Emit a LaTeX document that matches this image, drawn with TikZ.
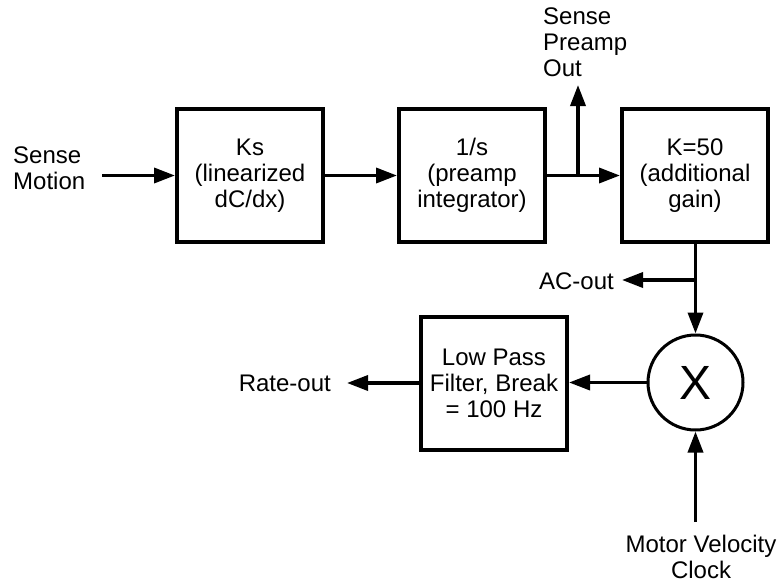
\documentclass[tikz,border=0pt]{standalone}
\usepackage{fontspec}
\setmainfont{Liberation Sans}
\usetikzlibrary{arrows.meta}
\begin{document}
\begin{tikzpicture}[x=1pt,y=-1pt,
  txt/.style={font=\fontsize{24}{26}\selectfont},
  blk/.style={txt,draw,line width=4pt,minimum width=146pt,minimum height=133pt,align=center,inner sep=0pt},
  lbl/.style={txt,inner sep=0pt},
  ln/.style={line width=3.5pt},
  arr/.style={ln,-{Triangle[length=21pt,width=15pt]}}]
\useasboundingbox (0,0) rectangle (782,586);
% blocks
\node[blk] (b1) at (250,175.5) {Ks\\(linearized\\dC/dx)};
\node[blk] (b2) at (472,175.5) {1/s\\(preamp\\integrator)};
\node[blk] (b3) at (695,175.5) {K=50\\(additional\\gain)};
\node[blk] (lp) at (494,383) {Low Pass\\Filter, Break\\= 100 Hz};
\node[draw,circle,line width=3pt,minimum size=95pt,inner sep=0pt,font=\fontsize{48}{50}\selectfont] (mul) at (695.5,382.5) {X};
% labels
\node[lbl,anchor=west,align=left] (sm) at (13,168) {Sense\\Motion};
\node[lbl,anchor=west,align=left] (spo) at (543,42) {Sense\\Preamp\\Out};
\node[lbl,anchor=east] (ac) at (614,281) {AC-out};
\node[lbl,anchor=east] (rate) at (331,383) {Rate-out};
\node[lbl,align=center] (mv) at (701,557) {Motor Velocity\\Clock};
% coordinates
\coordinate (smend) at (102,175.5);
\coordinate (j1) at (578,175.5);
\coordinate (spotip) at (578,85);
\coordinate (j2) at (695.5,280);
\coordinate (mvend) at (695.5,522);
% connectors
\draw[arr] (smend) -- (b1.west);
\draw[arr] (b1.east) -- (b2.west);
\draw[ln] (b2.east) -- (j1);
\draw[arr] (j1) -- (b3.west |- j1);
\draw[arr] (j1) -- (spotip);
\draw[ln] (b3.south -| j2) -- (j2);
\draw[arr] (j2) -- (mul.north);
\draw[arr] (j2) -- (622,280);
\draw[arr] (mul.west) -- (lp.east |- mul.west);
\draw[arr] (lp.west) -- (347,383);
\draw[arr] (mvend) -- (mul.south);
\end{tikzpicture}
\end{document}
